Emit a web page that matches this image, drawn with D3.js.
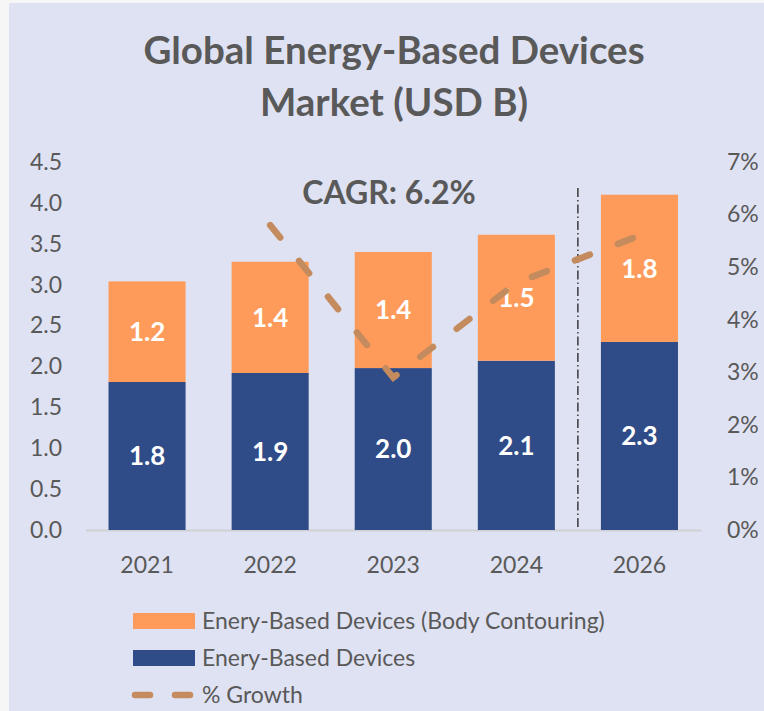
<!DOCTYPE html>
<html>
<head>
<meta charset="utf-8">
<script src="https://cdn.jsdelivr.net/npm/d3@7"></script>
<style>
  html, body { margin: 0; padding: 0; background: #f6f6f6; }
  svg { display: block; font-family: Lato, "Open Sans", sans-serif; }
</style>
</head>
<body>
<svg id="chart" width="764" height="711"></svg>
<script>
// values
var years = ["2021", "2022", "2023", "2024", "2026"];
var devices = [1.81, 1.92, 1.98, 2.07, 2.30];
var bodyContouring = [1.23, 1.36, 1.42, 1.54, 1.80];
var growthYears = ["2022", "2023", "2024", "2026"];
var growth = [0.058, 0.029, 0.047, 0.056];
var leftTicks = [0, 0.5, 1, 1.5, 2, 2.5, 3, 3.5, 4, 4.5];
var rightTicks = [0, 0.01, 0.02, 0.03, 0.04, 0.05, 0.06, 0.07];
var titleLines = ["Global Energy-Based Devices", "Market (USD B)"];
var cagrText = "CAGR: 6.2%";
var legendItems = [
  { label: "Enery-Based Devices (Body Contouring)", type: "rect", color: "#fe9b5a" },
  { label: "Enery-Based Devices", type: "rect", color: "#2f4c88" },
  { label: "% Growth", type: "dash", color: "#c38b5e" }
];

var ORANGE = "#fe9b5a", BLUE = "#2f4c88", GROWTH = "#c38b5e", TEXT = "#595959";

var svg = d3.select("#chart");

// panel background
svg.append("rect")
  .attr("x", 9).attr("y", 3)
  .attr("width", 764 - 9).attr("height", 711 - 3)
  .attr("fill", "#dfe2f2");

var x = d3.scaleBand().domain(years).range([85.5, 701]).paddingInner(0.374).paddingOuter(0.187);
var y = d3.scaleLinear().domain([0, 4.5]).range([530, 162]);
var y2 = d3.scaleLinear().domain([0, 0.07]).range([530, 162]);

// title
svg.append("g").selectAll("text")
  .data(titleLines)
  .join("text")
  .attr("x", 394)
  .attr("y", function (d, i) { return 64 + i * 52; })
  .attr("text-anchor", "middle")
  .attr("font-size", 38.5)
  .attr("font-weight", 700)
  .attr("fill", TEXT)
  .text(function (d) { return d; });

// axes
var leftAxis = svg.append("g")
  .attr("transform", "translate(62,0)")
  .call(d3.axisLeft(y).tickValues(leftTicks).tickFormat(d3.format(".1f")).tickSize(0).tickPadding(0));
var rightAxis = svg.append("g")
  .attr("transform", "translate(727,0)")
  .call(d3.axisRight(y2).tickValues(rightTicks).tickFormat(d3.format(".0%")).tickSize(0).tickPadding(0));
var bottomAxis = svg.append("g")
  .attr("transform", "translate(0,530)")
  .call(d3.axisBottom(x).tickSize(0).tickPadding(27));

[leftAxis, rightAxis, bottomAxis].forEach(function (g) {
  g.selectAll("text").attr("font-family", "Lato, sans-serif").attr("font-size", 23).attr("fill", TEXT);
});
leftAxis.select(".domain").remove();
rightAxis.select(".domain").remove();
bottomAxis.select(".domain").attr("stroke", "#cfd0d4").attr("stroke-width", 2);
bottomAxis.selectAll("text").attr("dy", "0.71em");

// stacked bars
var rows = years.map(function (yr, i) {
  return { year: yr, devices: devices[i], body: bodyContouring[i] };
});
var stacked = d3.stack().keys(["devices", "body"])(rows);
var colors = { devices: BLUE, body: ORANGE };

var layers = svg.append("g").selectAll("g")
  .data(stacked)
  .join("g")
  .attr("fill", function (d) { return colors[d.key]; });

layers.selectAll("rect")
  .data(function (d) { return d; })
  .join("rect")
  .attr("x", function (d) { return x(d.data.year); })
  .attr("width", x.bandwidth())
  .attr("y", function (d) { return y(d[1]); })
  .attr("height", function (d) { return y(d[0]) - y(d[1]); });

layers.selectAll("text")
  .data(function (d) { return d; })
  .join("text")
  .attr("x", function (d) { return x(d.data.year) + x.bandwidth() / 2; })
  .attr("y", function (d) { return (y(d[0]) + y(d[1])) / 2; })
  .attr("dy", "0.36em")
  .attr("text-anchor", "middle")
  .attr("font-size", 26)
  .attr("font-weight", 700)
  .attr("fill", "#ffffff")
  .text(function (d) { return d3.format(".1f")(d[1] - d[0]); });

// forecast separator
var sepX = (x("2024") + x.bandwidth() + x("2026")) / 2;
svg.append("line")
  .attr("x1", sepX).attr("x2", sepX)
  .attr("y1", 188).attr("y2", 530)
  .attr("stroke", "#111")
  .attr("stroke-width", 1.2)
  .attr("stroke-dasharray", "9,3,1.5,3");

// growth line
var line = d3.line()
  .x(function (d) { return x(d.year) + x.bandwidth() / 2; })
  .y(function (d) { return y2(d.value); });
svg.append("path")
  .datum(growthYears.map(function (yr, i) { return { year: yr, value: growth[i] }; }))
  .attr("d", line)
  .attr("fill", "none")
  .attr("stroke", GROWTH)
  .attr("stroke-width", 6.5)
  .attr("stroke-linecap", "round")
  .attr("stroke-dasharray", "16,30");

// CAGR note
svg.append("text")
  .attr("x", 389).attr("y", 204)
  .attr("text-anchor", "middle")
  .attr("font-size", 32)
  .attr("font-weight", 700)
  .attr("fill", TEXT)
  .text(cagrText);

// legend
var legend = svg.append("g").selectAll("g")
  .data(legendItems)
  .join("g")
  .attr("transform", function (d, i) { return "translate(133," + (621 + i * 37) + ")"; });

legend.filter(function (d) { return d.type === "rect"; })
  .append("rect")
  .attr("x", 0).attr("y", -8)
  .attr("width", 62).attr("height", 16)
  .attr("fill", function (d) { return d.color; });

legend.filter(function (d) { return d.type === "dash"; })
  .append("line")
  .attr("x1", 2).attr("x2", 62)
  .attr("y1", 0).attr("y2", 0)
  .attr("stroke", function (d) { return d.color; })
  .attr("stroke-width", 6.5)
  .attr("stroke-linecap", "round")
  .attr("stroke-dasharray", "15,25");

legend.append("text")
  .attr("x", 69)
  .attr("dy", "0.36em")
  .attr("font-size", 23)
  .attr("fill", TEXT)
  .text(function (d) { return d.label; });
</script>
</body>
</html>
